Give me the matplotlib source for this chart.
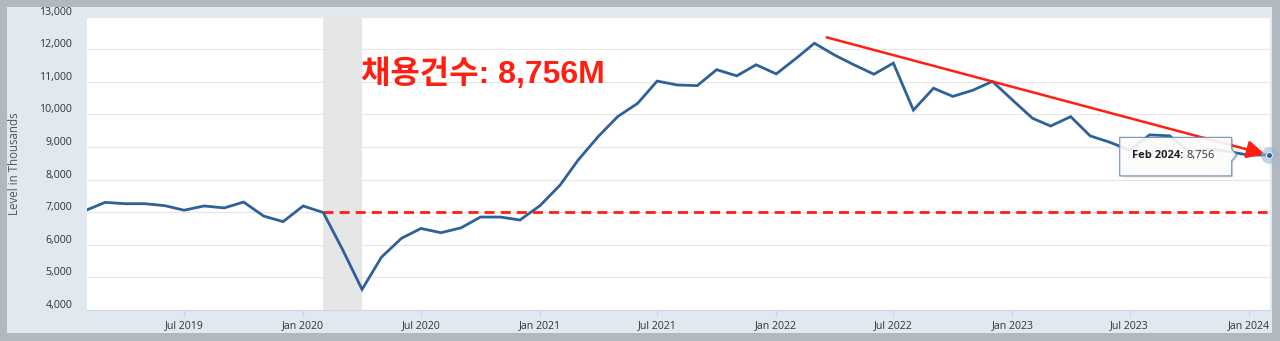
import numpy as np
import pandas as pd
import matplotlib
matplotlib.use("Agg")
import matplotlib.pyplot as plt
import matplotlib.dates as mdates
from matplotlib.patches import Rectangle, Polygon
from matplotlib.transforms import ScaledTranslation

plt.rcParams['font.family'] = ['Open Sans', 'Noto Sans CJK KR', 'DejaVu Sans']

# job openings, monthly, thousands
months = pd.date_range('2019-02-01', '2024-02-01', freq='MS')
openings = [
    7070, 7300, 7260, 7260, 7200, 7060, 7190, 7130, 7310, 6880, 6710,
    7190, 6990, 5890, 4630, 5620, 6200, 6500, 6370, 6520, 6850, 6850, 6760,
    7200, 7830, 8600, 9320, 9930, 10340, 11020, 10900, 10880, 11370, 11180, 11520,
    11240, 11720, 12180, 11820, 11520, 11230, 11570, 10130, 10800, 10550, 10740, 11010,
    10440, 9880, 9640, 9930, 9340, 9140, 8900, 9370, 9340, 8860, 8930, 8860,
    8750, 8756,
]
recession = ('2020-02-01', '2020-04-01')
ref_level = 7020
trend_start = ('2022-03-20', 12360)
trend_end = ('2024-01-26', 8780)
tick_dates = pd.date_range('2019-07-01', '2024-01-01', freq='6MS')
tick_labels = [d.strftime('%b %Y') for d in tick_dates]
headline = '채용건수: 8,756M'

W, H = 1280, 341
fig = plt.figure(figsize=(W / 100, H / 100), dpi=100)
fig.patch.set_facecolor('#b1b8c0')
fig.patches.append(Rectangle((7 / W, 8 / H), 1265 / W, 326 / H, transform=fig.transFigure,
                             facecolor='#e1e8f0', edgecolor='none', zorder=-5))

ax = fig.add_axes([87 / W, 31 / H, 1183 / W, 293.5 / H])
ax.set_facecolor('white')

blue = '#2f6199'
red = '#ff1f10'

ax.axvspan(pd.Timestamp(recession[0]), pd.Timestamp(recession[1]), color='#e6e6e6', lw=0, zorder=1)
ax.plot(months, openings, color=blue, lw=2.0, zorder=4, solid_joinstyle='miter')

# reference level from Feb 2020
ax.plot([pd.Timestamp('2020-02-01'), pd.Timestamp('2024-01-29')], [ref_level, ref_level],
        color=red, lw=2, linestyle=(0, (3.6, 2.2)), zorder=3)

ax.annotate('', xy=(pd.Timestamp(trend_end[0]), trend_end[1]),
            xytext=(pd.Timestamp(trend_start[0]), trend_start[1]),
            arrowprops=dict(arrowstyle='-|>,head_length=0.36,head_width=0.18', color=red, lw=1.8,
                            mutation_scale=30, shrinkA=0, shrinkB=0), zorder=6)

ax.text(pd.Timestamp('2020-03-30'), 10960, headline, color=red, fontsize=23, fontweight='bold',
        family=['Liberation Sans', 'Noto Sans CJK KR'], va='baseline', ha='left', zorder=6)

ax.set_xlim(pd.Timestamp('2019-02-01'), pd.Timestamp('2024-02-03'))
ax.set_ylim(4000, 13000)
ax.set_yticks(np.arange(4000, 13001, 1000))
ax.yaxis.set_major_formatter(matplotlib.ticker.FuncFormatter(lambda v, p: f'{int(v):,}'))
ax.set_xticks(tick_dates)
ax.set_xticklabels(tick_labels)
ax.grid(axis='y', color='#e6e6e6', lw=0.8, zorder=0)
ax.set_axisbelow(True)
for s in ['top', 'right', 'left']:
    ax.spines[s].set_visible(False)
ax.spines['bottom'].set_color('#ccd6eb')
ax.spines['bottom'].set_linewidth(0.8)
ax.tick_params(axis='y', length=0, pad=10.5, labelsize=7.6, labelcolor='#333333')
ax.tick_params(axis='x', length=5, width=0.8, color='#ccd6eb', pad=2.5, labelsize=7.6,
               labelcolor='#333333')
up = ScaledTranslation(0, 6 / 100, fig.dpi_scale_trans)
for lab in ax.get_yticklabels():
    lab.set_transform(lab.get_transform() + up)

fig.text(15 / W, 0.5205, 'Level in Thousands', rotation=90, ha='center', va='center',
         fontsize=8.3, color='#555555')

# last observation marker with halo
last_x, last_y = months[-1], openings[-1]
ax.plot([last_x], [last_y], 'o', ms=12, color='#9fb5d2', alpha=0.6, mec='none', clip_on=False, zorder=7)
ax.plot([last_x], [last_y], 'o', ms=4.2, color=blue, mec='white', mew=0.6, clip_on=False, zorder=8)

# tooltip callout in pixel space
ax_px, ay_px = ax.transData.transform((mdates.date2num(last_x), last_y))
x0, x1 = ax_px - 149, ax_px - 37
y0, y1 = ay_px - 21, ay_px + 17.5
pts = [(x0, y0), (x1, y0), (x1, ay_px - 6), (x1 + 5, ay_px), (x1, ay_px + 6), (x1, y1), (x0, y1)]
shadow = Polygon([(px + 1.5, py - 1.5) for px, py in pts], closed=True, transform=None,
                 facecolor='black', alpha=0.12, edgecolor='none', zorder=9)
tip = Polygon(pts, closed=True, transform=None, facecolor='white', alpha=0.9,
              edgecolor='#6f8db5', lw=0.9, zorder=10)
fig.add_artist(shadow)
fig.add_artist(tip)
t1 = fig.text((x0 + 12) / W, (ay_px - 1) / H, 'Feb 2024:', fontsize=8, fontweight='bold',
              color='#222222', va='center', ha='left', zorder=11)
fig.canvas.draw()
bb = t1.get_window_extent()
fig.text((bb.x1 + 3) / W, (ay_px - 1) / H, '8,756', fontsize=8, color='#333333',
         va='center', ha='left', zorder=11)

fig.savefig('out.png', dpi=100, facecolor=fig.get_facecolor())
